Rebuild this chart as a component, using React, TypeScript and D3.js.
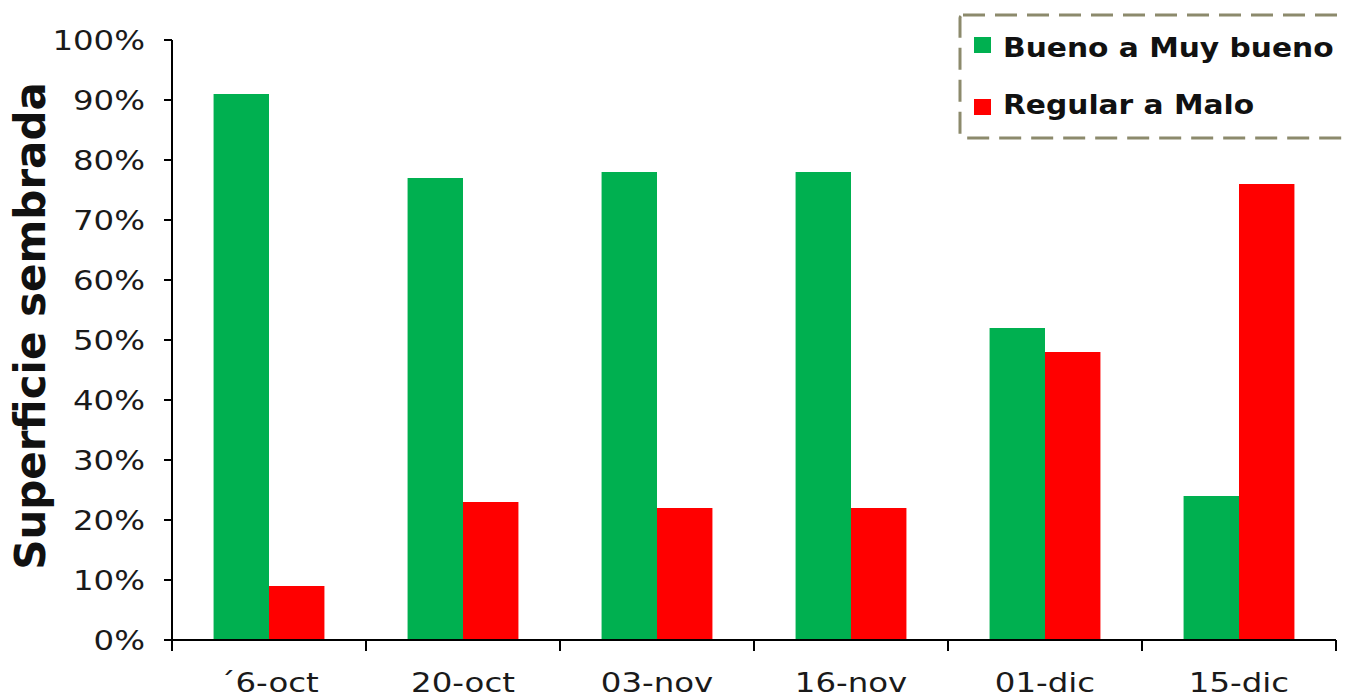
import React from "react";
import * as d3 from "d3";

const categories = ["´6-oct", "20-oct", "03-nov", "16-nov", "01-dic", "15-dic"];
const seriesNames = ["Bueno a Muy bueno", "Regular a Malo"];
const buenoValues = [91, 77, 78, 78, 52, 24];
const regularValues = [9, 23, 22, 22, 48, 76];
const seriesColors = ["#00b050", "#ff0000"];
const yTicks = [0, 10, 20, 30, 40, 50, 60, 70, 80, 90, 100];
const yTitle = "Superficie sembrada";

const W = 1347;
const H = 697;
const left = 172;
const right = 1336;
const top = 40;
const bottom = 640;

export default function App() {
  const x = d3.scaleBand<string>().domain(categories).range([left, right]).paddingInner(0).paddingOuter(0);
  const xs = d3.scaleBand<string>().domain(seriesNames).range([0, x.bandwidth()]).paddingInner(0).paddingOuter(0.75);
  const y = d3.scaleLinear().domain([0, 100]).range([bottom, top]);
  const series = [buenoValues, regularValues];
  const boundaries = categories.map((c) => x(c) as number).concat([right]);
  const axisFont = "DejaVu Sans, Verdana, sans-serif";

  return (
    <div style={{ position: "absolute", left: 0, top: 0 }}>
      <svg width={W} height={H} style={{ display: "block", background: "#fff" }}>
        {/* bars */}
        {categories.map((c, i) =>
          series.map((vals, s) => (
            <rect
              key={c + s}
              x={(x(c) as number) + (xs(seriesNames[s]) as number)}
              y={y(vals[i])}
              width={xs.bandwidth()}
              height={y(0) - y(vals[i])}
              fill={seriesColors[s]}
            />
          ))
        )}
        {/* y axis */}
        <line x1={left} x2={left} y1={y(100)} y2={bottom + 11} stroke="#000" strokeWidth={2} />
        {yTicks.map((t) => (
          <g key={t}>
            <line x1={left - 8} x2={left} y1={y(t)} y2={y(t)} stroke="#000" strokeWidth={2} />
            <text
              transform={`translate(145,${y(t) + 10}) scale(1.2,1)`}
              textAnchor="end"
              fontFamily={axisFont}
              fontSize={27}
              fill="#1a1a1a"
            >
              {t + "%"}
            </text>
          </g>
        ))}
        {/* x axis */}
        <line x1={left - 8} x2={right} y1={bottom} y2={bottom} stroke="#000" strokeWidth={2} />
        {boundaries.map((b, i) => (
          <line key={i} x1={b} x2={b} y1={bottom} y2={bottom + 11} stroke="#000" strokeWidth={2} />
        ))}
        {categories.map((c) => (
          <text
            key={c}
            transform={`translate(${(x(c) as number) + x.bandwidth() / 2},692) scale(1.2,1)`}
            textAnchor="middle"
            fontFamily={axisFont}
            fontSize={27}
            fill="#1a1a1a"
          >
            {c}
          </text>
        ))}
        {/* y title */}
        <text
          transform={`translate(45,${326}) rotate(-90)`}
          textAnchor="middle"
          fontFamily={axisFont}
          fontWeight="bold"
          fontSize={42}
          fill="#111"
        >
          {yTitle}
        </text>
        {/* legend */}
        <rect
          x={960}
          y={15}
          width={420}
          height={123}
          fill="#fff"
          stroke="#8c8a6c"
          strokeWidth={3}
          strokeDasharray="22 10"
          rx={3}
        />
        {seriesNames.map((n, i) => (
          <g key={n}>
            <rect x={974} y={37 + i * 62} width={17} height={16} fill={seriesColors[i]} />
            <text
              transform={`translate(1003,${57 + i * 57}) scale(1.1,1)`}
              fontFamily={axisFont}
              fontWeight="bold"
              fontSize={27}
              fill="#111"
            >
              {n}
            </text>
          </g>
        ))}
      </svg>
    </div>
  );
}
